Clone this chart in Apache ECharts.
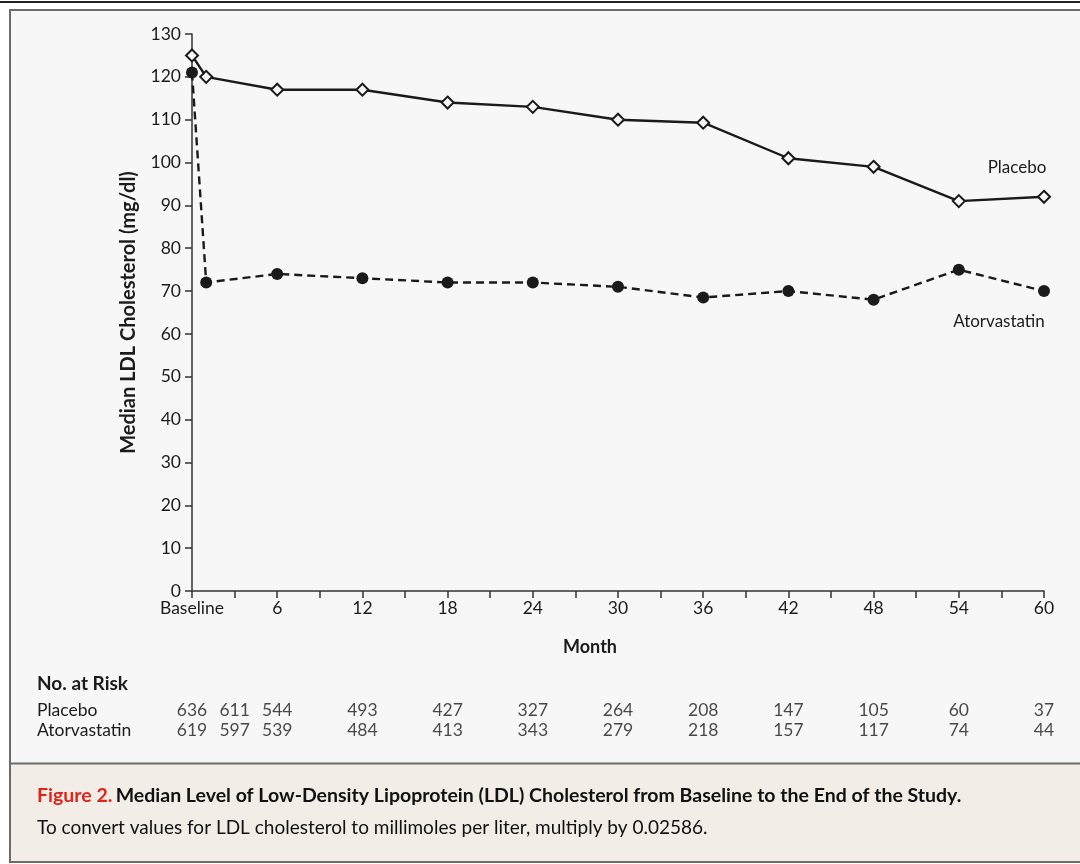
<!DOCTYPE html>
<html>
<head>
<meta charset="utf-8">
<script src="https://cdn.jsdelivr.net/npm/echarts@6/dist/echarts.min.js"></script>
<style>
html,body{margin:0;padding:0;background:#ffffff;}
#chart{width:1080px;height:864px;}
</style>
</head>
<body>
<div id="chart"></div>
<script>
// ---- data ----
const months = [0, 1, 6, 12, 18, 24, 30, 36, 42, 48, 54, 60];
const placebo = [125, 120, 117, 117, 114, 113, 110, 109.3, 101, 99, 91, 92];
const atorvastatin = [121, 72, 74, 73, 72, 72, 71, 68.5, 70, 68, 75, 70];
const riskMonths = [0, 3, 6, 12, 18, 24, 30, 36, 42, 48, 54, 60];
const riskPlacebo = [636, 611, 544, 493, 427, 327, 264, 208, 147, 105, 60, 37];
const riskAtorvastatin = [619, 597, 539, 484, 413, 343, 279, 218, 157, 117, 74, 44];
const riskRows = ['Placebo', 'Atorvastatin'];
const yTicks = [0, 130, 10];
const xTicks = [0, 60, 3];

const FONT = 'Lato';
const INK = '#1c1a1b';

const chart = echarts.init(document.getElementById('chart'), null, {renderer: 'canvas'});

const lastIdx = months.length - 1;
const placeboData = months.map((m, i) => {
  const d = {value: [m, placebo[i]]};
  if (i === lastIdx) d.label = {show: true, formatter: 'Placebo', position: 'top', distance: 14, offset: [-27, 0],
    color: INK, fontFamily: FONT, fontSize: 17};
  return d;
});
const atorData = months.map((m, i) => {
  const d = {value: [m, atorvastatin[i]]};
  if (i === lastIdx) d.label = {show: true, formatter: 'Atorvastatin', position: 'bottom', distance: 16, offset: [-45, 0],
    color: INK, fontFamily: FONT, fontSize: 17};
  return d;
});

const riskData = [];
riskMonths.forEach((m, i) => { riskData.push([m, 0, riskPlacebo[i]]); });
riskMonths.forEach((m, i) => { riskData.push([m, 1, riskAtorvastatin[i]]); });

chart.setOption({
  animation: false,
  backgroundColor: '#ffffff',
  textStyle: {fontFamily: FONT},
  graphic: [
    {type: 'rect', shape: {x: 0, y: 1, width: 1080, height: 2}, style: {fill: '#222'}, z: -10},
    {type: 'rect', shape: {x: 10, y: 10, width: 1080, height: 852}, style: {fill: '#f7f7f7', stroke: '#6b6b6b', lineWidth: 2}, z: -10},
    {type: 'rect', shape: {x: 11, y: 764, width: 1070, height: 97}, style: {fill: '#f2ede7'}, z: -9},
    {type: 'line', shape: {x1: 10, y1: 763.5, x2: 1080, y2: 763.5}, style: {stroke: '#6b6b6b', lineWidth: 2}, z: -8},
    {type: 'text', left: 37, top: 674, style: {text: 'No. at Risk', font: 'bold 19px ' + FONT, fill: INK}},
    {type: 'text', left: 37, top: 786, style: {
      text: '{r|Figure 2.} {b|Median Level of Low-Density Lipoprotein (LDL) Cholesterol from Baseline to the End of the Study.}',
      rich: {r: {fill: '#e2231a', font: 'bold 19.5px ' + FONT}, b: {fill: '#111', font: 'bold 19.5px ' + FONT}}}},
    {type: 'text', left: 37, top: 818, style: {text: 'To convert values for LDL cholesterol to millimoles per liter, multiply by 0.02586.',
      font: '19px ' + FONT, fill: '#111'}}
  ],
  grid: [
    {left: 192, right: 36, top: 34, bottom: 273, containLabel: false},
    {left: 192, right: 36, top: 700, height: 40, containLabel: false}
  ],
  xAxis: [
    {
      type: 'value', gridIndex: 0, min: xTicks[0], max: xTicks[1], interval: xTicks[2],
      name: 'Month', nameLocation: 'middle', nameGap: 47,
      nameTextStyle: {fontFamily: FONT, fontSize: 18, fontWeight: 'bold', color: INK, padding: [0, 56, 0, 0]},
      axisLine: {lineStyle: {color: '#333', width: 1.5}},
      axisTick: {show: true, length: 7, lineStyle: {color: '#333', width: 1.5}},
      axisLabel: {color: INK, fontSize: 17.5, fontFamily: FONT, margin: 8,
        formatter: v => v === 0 ? 'Baseline' : (v % 6 === 0 ? String(v) : '')},
      splitLine: {show: false}
    },
    {
      type: 'value', gridIndex: 1, min: xTicks[0], max: xTicks[1], show: false
    }
  ],
  yAxis: [
    {
      type: 'value', gridIndex: 0, min: yTicks[0], max: yTicks[1], interval: yTicks[2],
      name: 'Median LDL Cholesterol (mg/dl)', nameLocation: 'middle', nameGap: 53, nameRotate: 90,
      nameTextStyle: {fontFamily: FONT, fontSize: 20, fontWeight: 'bold', color: INK},
      axisLine: {show: true, lineStyle: {color: '#333', width: 1.5}},
      axisTick: {show: true, length: 7, lineStyle: {color: '#333', width: 1.5}},
      axisLabel: {color: INK, fontSize: 17.5, fontFamily: FONT, margin: 11},
      splitLine: {show: false}
    },
    {
      type: 'category', gridIndex: 1, data: riskRows, inverse: true,
      axisLine: {show: false}, axisTick: {show: false}, splitLine: {show: false},
      axisLabel: {show: true, interval: 0, align: 'left', margin: 155, color: INK, fontSize: 17.5, fontFamily: FONT}
    }
  ],
  series: [
    {
      name: 'Atorvastatin', type: 'line', xAxisIndex: 0, yAxisIndex: 0, data: atorData,
      symbol: 'circle', symbolSize: 12,
      itemStyle: {color: '#1a1a1a'},
      lineStyle: {color: '#1a1a1a', width: 2.4, type: [8, 5]},
      z: 2
    },
    {
      name: 'Placebo', type: 'line', xAxisIndex: 0, yAxisIndex: 0, data: placeboData,
      symbol: 'diamond', symbolSize: 12, showAllSymbol: true,
      itemStyle: {color: '#f7f7f7', borderColor: '#1a1a1a', borderWidth: 2},
      lineStyle: {color: '#1a1a1a', width: 2.4},
      z: 3
    },
    {
      name: 'At risk', type: 'scatter', xAxisIndex: 1, yAxisIndex: 1, data: riskData,
      symbolSize: 0, silent: true,
      label: {show: true, position: 'inside', formatter: p => String(p.value[2]),
        color: INK, fontSize: 17.5, fontFamily: FONT}
    }
  ]
});
</script>
</body>
</html>
